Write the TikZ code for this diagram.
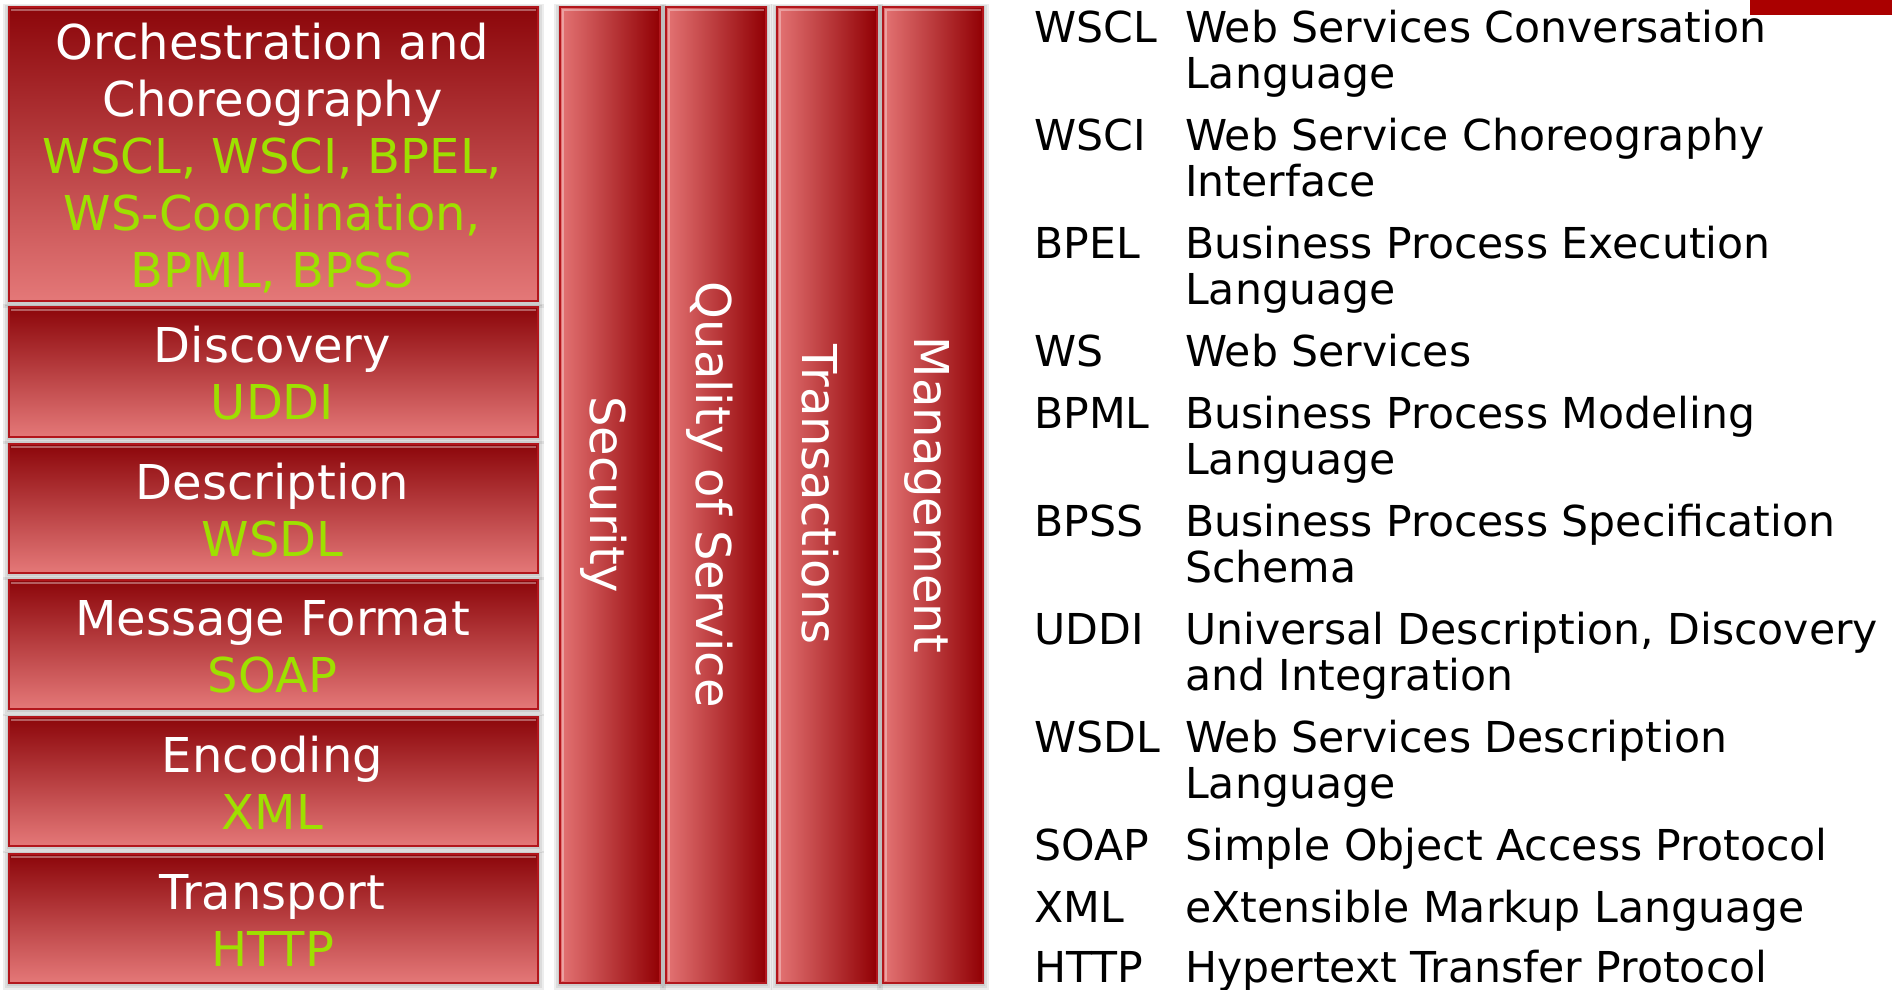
\documentclass[tikz,border=0pt]{standalone}
\usepackage{fontspec}
\setmainfont{DejaVu Sans}
\usetikzlibrary{calc,backgrounds}

\definecolor{layertop}{RGB}{140,6,10}
\definecolor{layerbot}{RGB}{228,120,120}
\definecolor{pillarlight}{RGB}{228,116,116}
\definecolor{pillardark}{RGB}{145,0,4}
\definecolor{edgered}{RGB}{178,22,28}
\definecolor{acronym}{RGB}{158,224,0}
\definecolor{barred}{RGB}{170,0,0}

\tikzset{
  layerbox/.style={draw=edgered, line width=1.5pt, top color=layertop,
    bottom color=layerbot, inner sep=0pt, minimum width=529pt, anchor=north west},
  pillar/.style={draw=edgered, line width=1.5pt, left color=pillarlight,
    right color=pillardark, inner sep=0pt, minimum width=100pt,
    minimum height=976pt, anchor=north west},
  halo/.style={fill=black, opacity=0.07},
  gloss/.style={draw=white, opacity=0.35, line width=2pt},
  layertext/.style={text=white, font=\fontsize{48pt}{57pt}\selectfont,
    anchor=base, inner sep=0pt},
  pillartext/.style={text=white, font=\fontsize{48pt}{57pt}\selectfont,
    rotate=-90, inner sep=0pt},
  abbr/.style={text=black, font=\fontsize{42.6pt}{46pt}\selectfont,
    anchor=base west, inner sep=0pt},
}
\newcommand{\acr}[1]{\textcolor{acronym}{#1}}
\newcommand{\twolines}[2]{\begin{tabular}[t]{@{}l@{}}#1\\#2\end{tabular}}

\begin{document}
\begin{tikzpicture}[x=1pt, y=-1pt]
  \useasboundingbox (0,0) rectangle (1892,989);

  % protocol stack layers
  \node[layerbox, minimum height=294pt] (orch) at (8,6) {};
  \node[layerbox, minimum height=130pt] (disc) at (8,306) {};
  \node[layerbox, minimum height=129pt] (desc) at (8,443) {};
  \node[layerbox, minimum height=129pt] (msg)  at (8,579) {};
  \node[layerbox, minimum height=129pt] (enc)  at (8,716) {};
  \node[layerbox, minimum height=129pt] (trans) at (8,853) {};

  % cross-cutting concerns
  \node[pillar] (secp) at (559,6) {};
  \node[pillar] (qosp) at (665,6) {};
  \node[pillar] (txp)  at (776,6) {};
  \node[pillar] (mgmp) at (882,6) {};

  % soft shadows and glossy top edges
  \foreach \b in {orch,disc,desc,msg,enc,trans,secp,qosp,txp,mgmp} {
    \begin{scope}[on background layer]
      \fill[halo] ($(\b.north west)+(-5,-2)$) rectangle ($(\b.south east)+(5,6)$);
      \fill[halo] ($(\b.north west)+(-3,-1)$) rectangle ($(\b.south east)+(3,4)$);
      \fill[halo] ($(\b.north west)+(-1.5,0)$) rectangle ($(\b.south east)+(1.5,2.5)$);
    \end{scope}
    \draw[gloss] ($(\b.north west)+(3,4)$) -- ($(\b.north east)+(-3,4)$);
  }
  \foreach \b in {secp,qosp,txp,mgmp} {
    \draw[gloss] ($(\b.north west)+(3.5,5)$) -- ($(\b.south west)+(3.5,-3)$);
  }

  % layer captions
  \node[layertext] (orchtxt) at (272.5,59) {\begin{tabular}[t]{@{}c@{}}
    Orchestration and\\Choreography\\\acr{WSCL, WSCI, BPEL,}\\
    \acr{WS-Coordination,}\\\acr{BPML, BPSS}\end{tabular}};
  \node[layertext] (disctxt) at (272.5,362) {\begin{tabular}[t]{@{}c@{}}
    Discovery\\\acr{UDDI}\end{tabular}};
  \node[layertext] (desctxt) at (272.5,499) {\begin{tabular}[t]{@{}c@{}}
    Description\\\acr{WSDL}\end{tabular}};
  \node[layertext] (msgtxt) at (272.5,635) {\begin{tabular}[t]{@{}c@{}}
    Message Format\\\acr{SOAP}\end{tabular}};
  \node[layertext] (enctxt) at (272.5,772) {\begin{tabular}[t]{@{}c@{}}
    Encoding\\\acr{XML}\end{tabular}};
  \node[layertext] (transtxt) at (272.5,909) {\begin{tabular}[t]{@{}c@{}}
    Transport\\\acr{HTTP}\end{tabular}};

  % pillar captions
  \node[pillartext] (sectxt) at ($(secp.center)+(-6,0)$) {Security};
  \node[pillartext] (qostxt) at ($(qosp.center)+(-6,0)$) {Quality of Service};
  \node[pillartext] (txtxt)  at ($(txp.center)+(-6,0)$) {Transactions};
  \node[pillartext] (mgmtxt) at ($(mgmp.center)+(-6,0)$) {Management};

  % glossary
  \node[abbr] (gwscl) at (1034,42) {WSCL};
  \node[abbr] (dwscl) at (1185,42) {\twolines{Web Services Conversation}{Language}};
  \node[abbr] (gwsci) at (1034,150) {WSCI};
  \node[abbr] (dwsci) at (1185,150) {\twolines{Web Service Choreography}{Interface}};
  \node[abbr] (gbpel) at (1034,258) {BPEL};
  \node[abbr] (dbpel) at (1185,258) {\twolines{Business Process Execution}{Language}};
  \node[abbr] (gws) at (1034,366) {WS};
  \node[abbr] (dws) at (1185,366) {Web Services};
  \node[abbr] (gbpml) at (1034,428) {BPML};
  \node[abbr] (dbpml) at (1185,428) {\twolines{Business Process Modeling}{Language}};
  \node[abbr] (gbpss) at (1034,536) {BPSS};
  \node[abbr] (dbpss) at (1185,536) {\twolines{Business Process Specification}{Schema}};
  \node[abbr] (guddi) at (1034,644) {UDDI};
  \node[abbr] (duddi) at (1185,644) {\twolines{Universal Description, Discovery}{and Integration}};
  \node[abbr] (gwsdl) at (1034,752) {WSDL};
  \node[abbr] (dwsdl) at (1185,752) {\twolines{Web Services Description}{Language}};
  \node[abbr] (gsoap) at (1034,860) {SOAP};
  \node[abbr] (dsoap) at (1185,860) {Simple Object Access Protocol};
  \node[abbr] (gxml) at (1034,922) {XML};
  \node[abbr] (dxml) at (1185,922) {eXtensible Markup Language};
  \node[abbr] (ghttp) at (1034,982) {HTTP};
  \node[abbr] (dhttp) at (1185,982) {Hypertext Transfer Protocol};

  % corner accent
  \fill[barred] (1750,0) rectangle (1892,15);
\end{tikzpicture}
\end{document}
